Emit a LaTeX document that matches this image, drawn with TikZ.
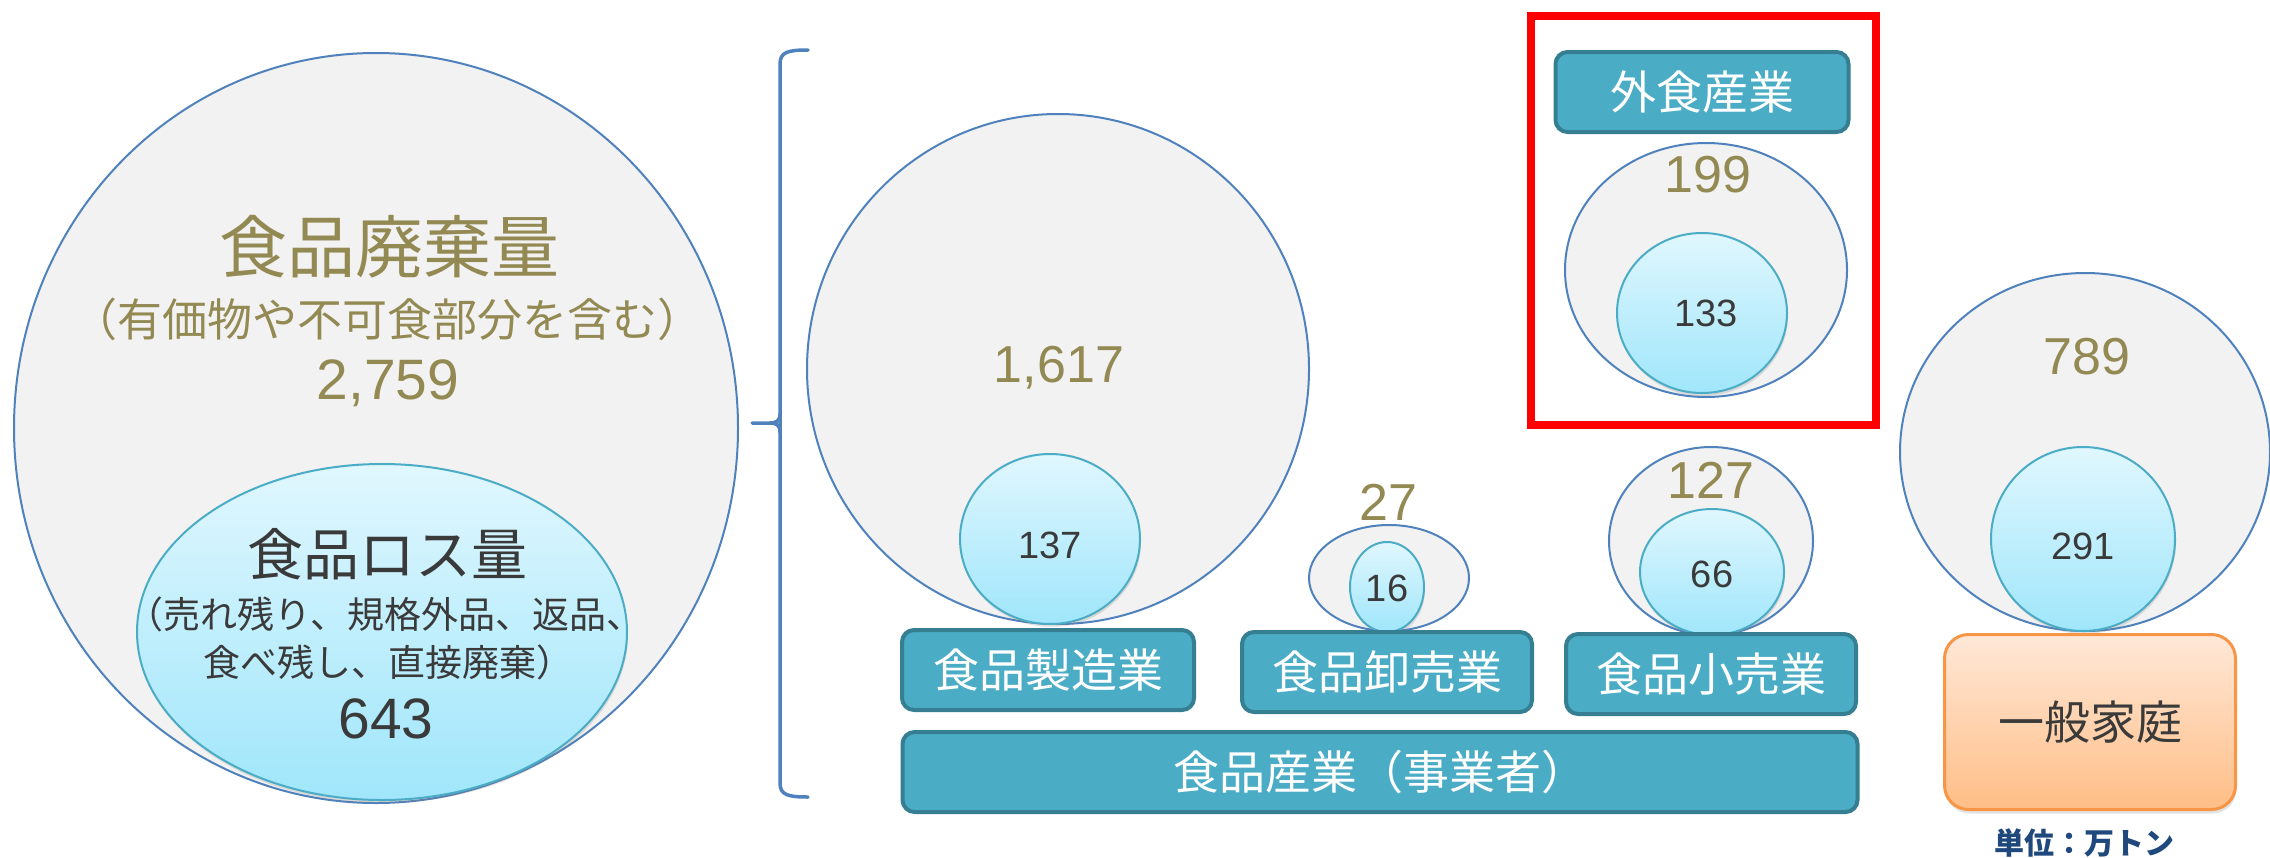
\documentclass[tikz,border=0pt]{standalone}
\usepackage{fontspec}
\setmainfont{Liberation Sans}
\newfontfamily\jp{Noto Sans CJK JP}
\usetikzlibrary{shapes.geometric,shadows}
\definecolor{graybg}{HTML}{F2F2F2}
\definecolor{bubbleline}{HTML}{4F81BD}
\definecolor{tealline}{HTML}{4BACC6}
\definecolor{bluetop}{HTML}{E0F7FE}
\definecolor{bluebot}{HTML}{A0E6FB}
\definecolor{boxfill}{HTML}{4BACC6}
\definecolor{boxline}{HTML}{367F92}
\definecolor{olivetxt}{HTML}{938953}
\definecolor{darktxt}{HTML}{3A3A3A}
\definecolor{orangeline}{HTML}{F79646}
\definecolor{orangetop}{HTML}{FFE8D8}
\definecolor{orangebot}{HTML}{FFBE86}
\definecolor{navytxt}{HTML}{1F497D}
\definecolor{framered}{HTML}{FF0000}
\tikzset{
  graybub/.style={ellipse, draw=bubbleline, line width=2pt, fill=graybg, inner sep=0pt},
  bluebub/.style={ellipse, draw=tealline, line width=2pt, top color=bluetop, bottom color=bluebot, inner sep=0pt,
    drop shadow={opacity=0.22, shadow xshift=1pt, shadow yshift=-3pt}},
  sector/.style={rectangle, rounded corners=12pt, draw=boxline, line width=4pt, fill=boxfill, text=white,
    font=\jp\fontsize{46}{50}\selectfont, inner sep=0pt},
  bignum/.style={text=olivetxt, font=\fontsize{52}{56}\selectfont, inner sep=0pt},
  smallnum/.style={text=darktxt, font=\fontsize{38}{42}\selectfont, inner sep=0pt},
  bracketline/.style={draw=bubbleline, line width=3.5pt, line cap=round},
}
\begin{document}
\begin{tikzpicture}[x=1pt, y=-1pt]
\useasboundingbox (0,0) rectangle (2270,857);

% ---- total food waste ----
\node[graybub, minimum width=724pt, minimum height=750pt] (waste) at (376,428) {};
\node[bluebub, minimum width=490pt, minimum height=336pt] (loss) at (382,632) {};
\node[text=olivetxt, font=\jp\fontsize{68}{72}\selectfont, inner sep=0pt] (wastetitle) at (389,247) {食品廃棄量};
\node[text=olivetxt, font=\jp\fontsize{45}{50}\selectfont, inner sep=0pt] (wastenote) at (387,319) {（有価物や不可食部分を含む）};
\node[text=olivetxt, font=\fontsize{57}{60}\selectfont, inner sep=0pt] (wasteval) at (388,383) {2,759};
\node[text=darktxt, font=\jp\fontsize{56}{60}\selectfont, inner sep=0pt] (losstitle) at (387,554) {食品ロス量};
\node[text=darktxt, font=\jp\fontsize{37}{40}\selectfont, inner sep=0pt] (lossnoteA) at (385,614) {（売れ残り、規格外品、返品、};
\node[text=darktxt, font=\jp\fontsize{37}{40}\selectfont, inner sep=0pt] (lossnoteB) at (388,662) {食べ残し、直接廃棄）};
\node[text=darktxt, font=\fontsize{57}{60}\selectfont, inner sep=0pt] (lossval) at (386,719) {643};

% ---- bracket ----
\draw[bracketline] (808,50) .. controls (788,50) and (780,52) .. (780,64) -- (780,783) .. controls (780,795) and (788,797) .. (808,797);
\draw[bracketline] (752,423) -- (770,423) .. controls (776,423) and (780,421) .. (780,414);
\draw[bracketline] (770,423) .. controls (776,423) and (780,425) .. (780,432);

% ---- food manufacturing ----
\node[graybub, minimum width=502pt, minimum height=510pt] (mfgall) at (1058,369) {};
\node[bluebub, minimum width=180pt, minimum height=170pt] (mfgloss) at (1050,539) {};
\node[bignum] (mfgallv) at (1059,368) {1,617};
\node[smallnum] (mfglossv) at (1050,545) {137};
\node[sector, minimum width=292pt, minimum height=80pt] (mfg) at (1048,670) {食品製造業};

% ---- food wholesale ----
\node[graybub, minimum width=160pt, minimum height=106pt] (wsall) at (1389,578) {};
\node[bluebub, minimum width=74pt, minimum height=90pt] (wsloss) at (1387,587) {};
\node[bignum] (wsallv) at (1388,502) {27};
\node[smallnum] (wslossv) at (1387,588) {16};
\node[sector, minimum width=290pt, minimum height=80pt] (ws) at (1387,672) {食品卸売業};

% ---- food retail ----
\node[graybub, minimum width=204pt, minimum height=188pt] (rtall) at (1711,541) {};
\node[bluebub, minimum width=144pt, minimum height=126pt] (rtloss) at (1712,572) {};
\node[bignum] (rtallv) at (1711,480) {127};
\node[smallnum] (rtlossv) at (1712,574) {66};
\node[sector, minimum width=290pt, minimum height=80pt] (rt) at (1711,674) {食品小売業};

% ---- food industry ----
\node[sector, minimum width=955pt, minimum height=80pt] (industry) at (1380,772) {食品産業（事業者）};

% ---- restaurants ----
\node[draw=framered, line width=8pt, minimum width=345pt, minimum height=409pt, inner sep=0pt] (frame) at (1703.5,220.5) {};
\node[sector, minimum width=293pt, minimum height=80pt] (rest) at (1702,92) {外食産業};
\node[graybub, minimum width=282pt, minimum height=254pt] (restall) at (1706,270) {};
\node[bluebub, minimum width=170pt, minimum height=160pt] (restloss) at (1702,313) {};
\node[bignum] (restallv) at (1708,175) {199};
\node[smallnum] (restlossv) at (1706,313) {133};

% ---- households ----
\node[graybub, minimum width=370pt, minimum height=358pt] (homeall) at (2085,452) {};
\node[bluebub, minimum width=184pt, minimum height=184pt] (homeloss) at (2083,539) {};
\node[bignum] (homeallv) at (2087,357) {789};
\node[smallnum] (homelossv) at (2083,546) {291};
\node[rectangle, rounded corners=24pt, draw=orangeline, line width=3pt, top color=orangetop, bottom color=orangebot,
  minimum width=291pt, minimum height=175pt, inner sep=0pt, text=darktxt, font=\jp\fontsize{46}{50}\selectfont,
  drop shadow={opacity=0.22, shadow xshift=1pt, shadow yshift=-4pt}] (home) at (2090,722) {一般家庭};
\node[text=navytxt, font=\jp\bfseries\fontsize{30}{34}\selectfont, inner sep=0pt] (unit) at (2084,843) {単位：万トン};
\end{tikzpicture}
\end{document}
